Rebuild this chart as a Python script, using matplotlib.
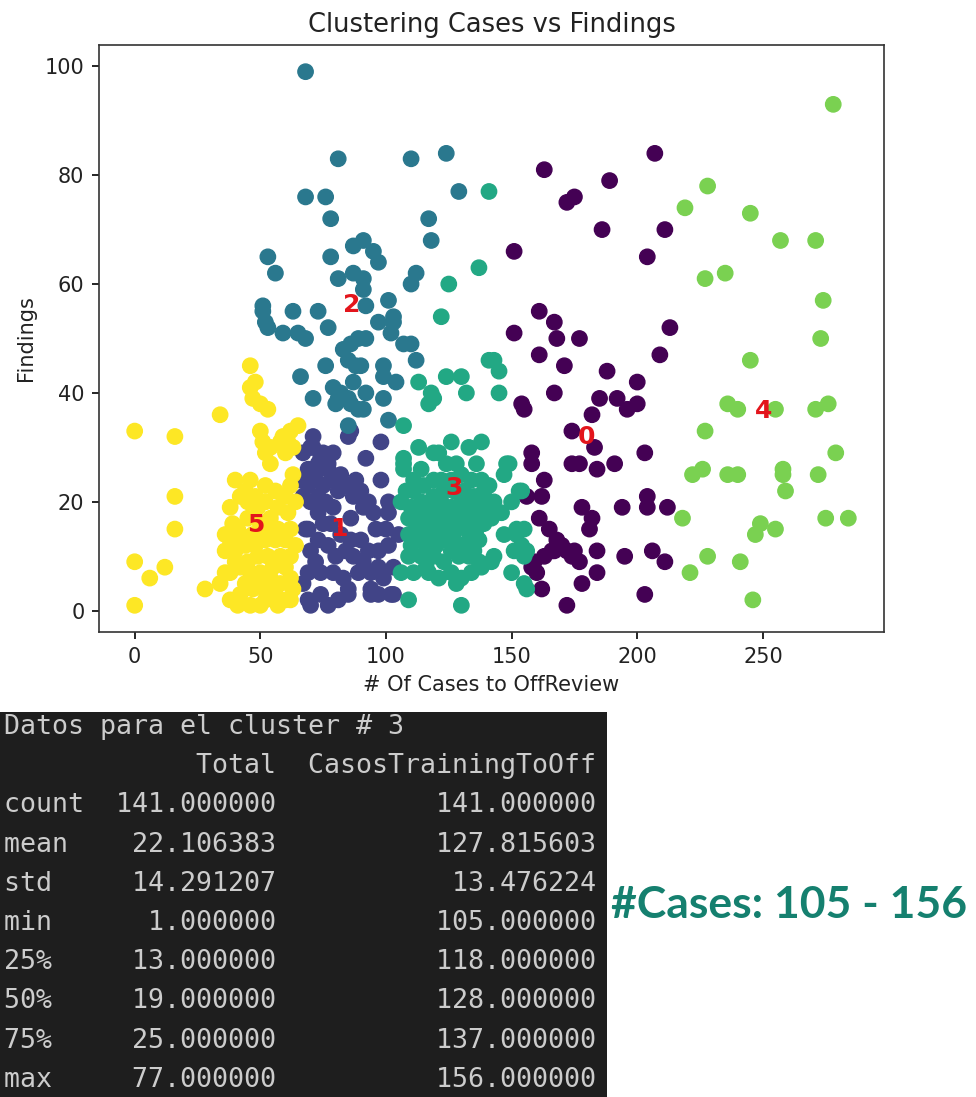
import matplotlib
matplotlib.use("Agg")
import matplotlib.pyplot as plt
import numpy as np

# cluster points: (# of cases, findings)
cluster0 = [(207, 84), (163, 81), (189, 79), (172, 75), (175, 76), (186, 70), (211, 70), (151, 66), (204, 65),
            (161, 55), (167, 53), (168, 50), (177, 50), (151, 51), (213, 52), (161, 47), (209, 47), (171, 45),
            (188, 44), (200, 42), (167, 40), (154, 38), (155, 37), (185, 39), (192, 39), (196, 37), (200, 38),
            (182, 36), (174, 33), (183, 30), (158, 29), (158, 27), (174, 27), (177, 27), (184, 26), (191, 27),
            (203, 29), (163, 24), (156, 21), (162, 21), (204, 21), (204, 19), (212, 19), (178, 19), (182, 17),
            (181, 15), (194, 19), (161, 17), (165, 15), (169, 12), (172, 11), (174, 10), (177, 9), (167, 11),
            (163, 10), (159, 9), (158, 8), (160, 7), (184, 11), (195, 10), (206, 11), (211, 9), (184, 7),
            (178, 5), (162, 4), (172, 1), (203, 3), (168, 13), (170, 12), (166, 11), (175, 11)]

cluster1 = [(85, 32), (71, 32), (86, 33), (98, 31), (92, 28), (67, 29), (71, 30), (75, 29), (79, 29), (73, 27),
            (77, 27), (70, 30), (74, 28), (69, 26), (73, 26), (77, 26), (98, 24), (101, 20), (101, 18), (105, 14),
            (103, 3), (85, 3), (94, 3), (70, 1), (77, 1), (68, 15), (66, 24), (69, 23), (72, 24), (75, 23),
            (78, 24), (81, 22), (84, 23), (87, 21), (90, 22), (93, 20), (67, 21), (70, 20), (73, 21), (76, 20),
            (79, 19), (82, 25), (88, 24), (73, 18), (69, 15), (86, 17), (91, 19), (95, 18), (73, 13),
            (70, 11), (77, 12), (86, 13), (90, 13), (93, 11), (97, 11), (101, 12), (87, 10), (82, 14), (78, 16),
            (84, 11), (96, 15), (75, 16), (69, 7), (74, 7), (79, 7), (83, 6), (89, 7), (94, 7), (99, 6), (103, 8),
            (69, 2), (74, 3), (81, 2), (85, 4), (94, 4), (97, 3), (102, 3), (67, 5), (72, 9), (80, 10), (91, 9),
            (97, 8), (100, 15)]

cluster2 = [(68, 99), (81, 83), (110, 83), (124, 84), (129, 77), (68, 76), (76, 76), (78, 72), (117, 72), (118, 68),
            (87, 67), (91, 68), (95, 66), (97, 64), (53, 65), (56, 62), (78, 65), (81, 61), (87, 62), (91, 61),
            (91, 59), (112, 62), (110, 60), (92, 56), (101, 57), (103, 54), (103, 53), (97, 53), (102, 51),
            (51, 56), (51, 55), (52, 53), (53, 52), (63, 55), (73, 55), (77, 52), (59, 51), (65, 51), (68, 50),
            (83, 48), (86, 49), (89, 50), (92, 50), (107, 49), (110, 49), (112, 46), (85, 46), (88, 45), (90, 45),
            (99, 45), (99, 43), (104, 42), (76, 45), (66, 43), (87, 42), (79, 41), (71, 39), (81, 39), (85, 39),
            (92, 40), (99, 39), (82, 40), (80, 38), (86, 38), (89, 37), (91, 37), (101, 35), (85, 34)]

cluster3 = [(141, 77), (137, 63), (125, 60), (122, 54), (141, 46), (143, 46), (145, 44), (113, 42), (124, 43),
            (130, 43), (132, 40), (145, 40), (117, 38), (119, 39), (118, 40), (107, 34), (113, 30), (121, 29),
            (126, 31), (133, 30), (138, 31), (119, 29), (107, 28), (148, 27), (147, 25), (149, 27), (107, 27),
            (107, 26), (111, 24), (119, 24), (122, 24), (130, 25), (134, 24), (138, 24), (141, 23), (153, 22),
            (154, 22), (143, 20), (106, 20), (110, 19), (114, 20), (118, 19), (122, 20), (126, 19), (130, 20),
            (134, 19), (138, 19), (141, 20), (109, 17), (113, 17), (117, 17), (121, 17), (125, 17), (129, 17),
            (133, 17), (137, 17), (140, 17), (142, 18), (139, 16), (142, 17), (147, 14), (152, 14), (155, 15),
            (152, 15), (109, 14), (113, 13), (118, 13), (122, 13), (127, 13), (133, 13), (137, 13), (154, 12),
            (156, 11), (151, 11), (155, 10), (109, 10), (114, 10), (119, 10), (123, 9), (129, 10), (133, 10),
            (137, 9), (143, 10), (138, 8), (142, 9), (106, 7), (111, 7), (117, 7), (126, 7), (130, 6), (134, 7),
            (150, 7), (155, 5), (156, 4), (128, 5), (109, 2), (130, 1), (111, 22), (115, 23), (119, 21),
            (123, 22), (127, 22), (131, 22), (135, 21), (139, 22), (112, 15), (116, 15), (120, 15), (124, 15),
            (128, 15), (132, 15), (136, 15), (110, 12), (116, 11), (120, 12), (126, 11), (131, 12), (135, 11),
            (114, 26), (124, 27), (128, 27), (136, 27), (116, 19), (128, 18), (120, 18), (132, 21), (126, 24),
            (116, 8), (121, 6), (146, 18), (150, 20), (108, 22)]

cluster4 = [(278, 93), (228, 78), (219, 74), (245, 73), (257, 68), (271, 68), (227, 61), (235, 62), (274, 57),
            (273, 50), (245, 46), (236, 38), (240, 37), (255, 37), (271, 37), (276, 38), (227, 33), (279, 29),
            (222, 25), (226, 26), (236, 25), (240, 25), (258, 26), (258, 25), (259, 22), (272, 25), (218, 17),
            (275, 17), (284, 17), (249, 16), (247, 14), (255, 15), (228, 10), (241, 9), (221, 7), (246, 2)]

cluster5 = [(0, 33), (16, 32), (16, 21), (16, 15), (0, 9), (6, 6), (12, 8), (0, 1), (28, 4), (34, 36), (46, 45),
            (46, 41), (48, 42), (47, 39), (50, 38), (53, 37), (65, 34), (62, 33), (58, 31), (54, 30), (50, 33),
            (51, 31), (52, 29), (54, 27), (60, 29), (63, 30), (59, 32), (61, 31), (40, 24), (46, 24), (52, 23),
            (56, 22), (60, 21), (42, 21), (45, 20), (49, 19), (39, 16), (41, 15), (38, 13), (36, 11), (40, 11),
            (54, 17), (57, 15), (61, 18), (62, 15), (60, 13), (56, 13), (52, 13), (53, 10), (58, 10), (62, 10),
            (48, 12), (44, 12), (34, 5), (38, 7), (42, 8), (46, 7), (50, 7), (54, 6), (58, 5), (62, 6), (38, 2),
            (42, 3), (47, 4), (52, 2), (56, 2), (60, 2), (62, 2), (41, 1), (46, 1), (50, 1), (57, 1), (44, 22),
            (48, 21), (52, 20), (57, 19), (45, 17), (50, 16), (42, 14), (47, 14), (53, 15), (58, 14), (40, 9),
            (45, 9), (49, 10), (55, 8), (60, 8), (36, 7), (44, 5), (48, 5), (52, 4), (56, 3), (63, 4), (64, 12),
            (64, 20), (63, 25), (62, 23), (38, 19), (36, 14)]

clusters = [cluster0, cluster1, cluster2, cluster3, cluster4, cluster5]

# where the cluster number labels sit
center_labels = ["0", "1", "2", "3", "4", "5"]
center_x = [179.7, 81.3, 86.5, 127.0, 250.2, 48.2]
center_y = [31.9, 15.1, 56.2, 22.5, 36.6, 15.8]

# describe() output for cluster 3
table_title = "Datos para el cluster # 3"
stat_names = ["count", "mean", "std", "min", "25%", "50%", "75%", "max"]
total_vals = [141.0, 22.106383, 14.291207, 1.0, 13.0, 19.0, 25.0, 77.0]
casos_vals = [141.0, 127.815603, 13.476224, 105.0, 118.0, 128.0, 137.0, 156.0]
side_note = "#Cases: 105 - 156"

W, H = 976, 1097
fig = plt.figure(figsize=(W / 100, H / 100), dpi=100)
fig.patch.set_facecolor("white")

# --- scatter ---
ax = fig.add_axes([99 / W, 1 - 632 / H, (884 - 99) / W, (632 - 45) / H])
xs, ys, labs = [], [], []
for k, pts in enumerate(clusters):
    arr = np.array(pts, dtype=float)
    xs.append(arr[:, 0])
    ys.append(arr[:, 1])
    labs.append(np.full(len(arr), k))
xs = np.concatenate(xs)
ys = np.concatenate(ys)
labs = np.concatenate(labs)
ax.scatter(xs, ys, c=labs, cmap="viridis", vmin=0, vmax=5, s=122)

for lab, cx, cy in zip(center_labels, center_x, center_y):
    ax.text(cx, cy, lab, color="#e3151c", fontsize=18, fontweight="bold",
            ha="center", va="center")

ax.set_title("Clustering Cases vs Findings", fontsize=18.5, pad=9, color="#222222")
ax.set_xlabel("# Of Cases to OffReview", fontsize=15, labelpad=6, color="#222222")
ax.set_ylabel("Findings", fontsize=15, labelpad=6, color="#222222")
ax.set_xticks([0, 50, 100, 150, 200, 250])
ax.set_yticks([0, 20, 40, 60, 80, 100])
ax.tick_params(labelsize=15, length=5.25, width=1.2, pad=5.25, labelcolor="#222222")
for sp in ax.spines.values():
    sp.set_linewidth(1.2)
    sp.set_color("#333333")

# --- terminal-like table ---
tab = fig.add_axes([0, 0, 607 / W, (H - 712) / H])
tab.set_facecolor("#1e1e1e")
tab.set_xlim(0, 607)
tab.set_ylim(H, 712)
tab.set_xticks([])
tab.set_yticks([])
for sp in tab.spines.values():
    sp.set_visible(False)

lines = [table_title, " " * 7 + f"{'Total':>10}" + "  " + f"{'CasosTrainingToOff':>18}"]
for name, tv, cv in zip(stat_names, total_vals, casos_vals):
    lines.append(f"{name:<5}  {tv:>10.6f}  {cv:>18.6f}")

for i, line in enumerate(lines):
    tab.text(4, 727 + 39.2 * i, line, color="#cccccc", fontsize=19.2,
             family="DejaVu Sans Mono", ha="left", va="center", clip_on=True)

fig.text(611 / W, 1 - 905 / H, side_note, color="#15806f", fontsize=32,
         family="Lato", fontweight="bold", ha="left", va="center")

fig.savefig("out.png", dpi=100)
